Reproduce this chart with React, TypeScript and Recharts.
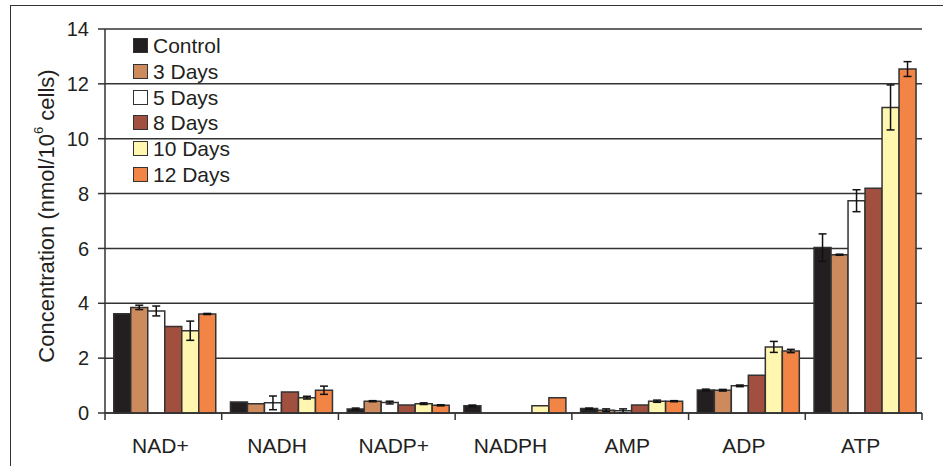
import * as React from "react"
import {
  BarChart,
  Bar,
  XAxis,
  YAxis,
  CartesianGrid,
  ErrorBar,
  Label,
} from "recharts"

const categories = ["NAD+", "NADH", "NADP+", "NADPH", "AMP", "ADP", "ATP"]

const control = [3.62, 0.4, 0.15, 0.26, 0.16, 0.84, 6.03]
const days3 = [3.85, 0.34, 0.43, null, 0.1, 0.83, 5.77]
const days5 = [3.72, 0.37, 0.38, null, 0.08, 0.99, 7.74]
const days8 = [3.15, 0.77, 0.29, null, 0.29, 1.38, 8.19]
const days10 = [3.0, 0.56, 0.34, 0.26, 0.43, 2.41, 11.14]
const days12 = [3.61, 0.83, 0.28, 0.56, 0.43, 2.26, 12.54]

const controlErr = [undefined, undefined, 0.03, 0.03, 0.02, 0.03, 0.5]
const days3Err = [0.08, undefined, 0.02, undefined, 0.05, 0.03, 0.02]
const days5Err = [0.18, 0.25, 0.05, undefined, 0.07, 0.03, 0.4]
const days8Err = [undefined, undefined, undefined, undefined, undefined, undefined, undefined]
const days10Err = [0.35, 0.05, 0.03, undefined, 0.04, 0.2, 0.82]
const days12Err = [0.02, 0.15, 0.02, undefined, 0.02, 0.06, 0.27]

const yTicks = [0, 2, 4, 6, 8, 10, 12, 14]

const series = [
  { key: "control", label: "Control", color: "#231f20", values: control, err: controlErr },
  { key: "d3", label: "3 Days", color: "#cd8b5d", values: days3, err: days3Err },
  { key: "d5", label: "5 Days", color: "#ffffff", values: days5, err: days5Err },
  { key: "d8", label: "8 Days", color: "#a14f3f", values: days8, err: days8Err },
  { key: "d10", label: "10 Days", color: "#fff6b0", values: days10, err: days10Err },
  { key: "d12", label: "12 Days", color: "#f28546", values: days12, err: days12Err },
]

const data = categories.map((name, i) => {
  const row: Record<string, string | number | null | undefined> = { name }
  series.forEach((s) => {
    row[s.key] = s.values[i]
    row[s.key + "Err"] = s.err[i]
  })
  return row
})

const W = 943
const H = 466
const X_AXIS_H = 30
const MARGIN = { top: 29, right: 21, bottom: 53 - X_AXIS_H, left: 0 }
const Y_AXIS_W = 105
const BAND = (W - MARGIN.right - Y_AXIS_W) / categories.length
const INK = "#231f20"
const LINE = "#333333"
const FONT = "'Liberation Sans', Arial, sans-serif"

function CategoryTick(props: any) {
  const { x, y, payload, index } = props
  const left = x - BAND / 2
  return (
    <g>
      <line x1={left} y1={y} x2={left} y2={y + 7} stroke={LINE} strokeWidth={1.5} />
      {index === categories.length - 1 && (
        <line x1={x + BAND / 2} y1={y} x2={x + BAND / 2} y2={y + 7} stroke={LINE} strokeWidth={1.5} />
      )}
      <text x={x - 3} y={y + 40} textAnchor="middle" fontSize={21} fill={INK} fontFamily={FONT}>
        {payload.value}
      </text>
    </g>
  )
}

function YTitle(props: any) {
  const vb = props.viewBox || { x: 0, y: 0, height: 0 }
  const cx = 46
  const cy = vb.y + vb.height / 2 - 5
  return (
    <text
      x={cx}
      y={cy}
      transform={`rotate(-90 ${cx} ${cy})`}
      textAnchor="middle"
      dominantBaseline="central"
      fontSize={22}
      fill={INK}
      fontFamily={FONT}
    >
      Concentration (nmol/10
      <tspan dy={-8} fontSize={13}>6</tspan>
      <tspan dy={8}> cells)</tspan>
    </text>
  )
}

// legend sits over the plot's top-left corner
function LegendBox() {
  return (
    <div
      style={{
        position: "absolute",
        left: 133,
        top: 33,
        fontFamily: FONT,
        fontSize: 21,
        color: INK,
        lineHeight: 1,
      }}
    >
      {series.map((s) => (
        <div key={s.key} style={{ display: "flex", alignItems: "center", height: 25.7 }}>
          <span
            style={{
              width: 13,
              height: 13,
              background: s.color,
              border: `1.5px solid ${LINE}`,
              marginRight: 5,
              display: "inline-block",
            }}
          />
          <span>{s.label}</span>
        </div>
      ))}
    </div>
  )
}

export default function App() {
  return (
    <div style={{ position: "absolute", left: 0, top: 0, width: W, height: H, background: "#fff" }}>
      <div
        style={{
          position: "absolute",
          left: 10,
          top: 5,
          right: 0,
          bottom: 0,
          borderTop: `1.5px solid ${LINE}`,
          borderLeft: `1.5px solid ${LINE}`,
        }}
      />
      <BarChart
        width={W}
        height={H}
        data={data}
        margin={MARGIN}
        barGap={0}
        barCategoryGap="7.5%"
        style={{ position: "absolute", left: 0, top: 0 }}
      >
        <CartesianGrid vertical={false} stroke={LINE} strokeWidth={1.5} />
        <XAxis
          dataKey="name"
          height={X_AXIS_H}
          axisLine={{ stroke: LINE, strokeWidth: 1.5 }}
          tickLine={false}
          tickSize={0}
          tickMargin={0}
          tick={<CategoryTick />}
          interval={0}
        />
        <YAxis
          width={Y_AXIS_W}
          domain={[0, 14]}
          ticks={yTicks}
          interval={0}
          axisLine={{ stroke: LINE, strokeWidth: 1.5 }}
          tickLine={{ stroke: LINE, strokeWidth: 1.5 }}
          tickSize={7}
          tickMargin={9}
          tick={{ fontSize: 20, fill: INK, fontFamily: FONT }}
        >
          <Label content={<YTitle />} />
        </YAxis>
        <YAxis
          yAxisId="right"
          orientation="right"
          width={0}
          domain={[0, 14]}
          ticks={yTicks}
          tick={false}
          tickLine={false}
          axisLine={{ stroke: LINE, strokeWidth: 1.5 }}
        />
        {series.map((s) => (
          <Bar
            key={s.key}
            dataKey={s.key}
            name={s.label}
            fill={s.color}
            stroke={LINE}
            strokeWidth={1.5}
            isAnimationActive={false}
          >
            <ErrorBar dataKey={s.key + "Err"} width={4} stroke="#111" strokeWidth={1.5} direction="y" />
          </Bar>
        ))}
      </BarChart>
      <LegendBox />
    </div>
  )
}
